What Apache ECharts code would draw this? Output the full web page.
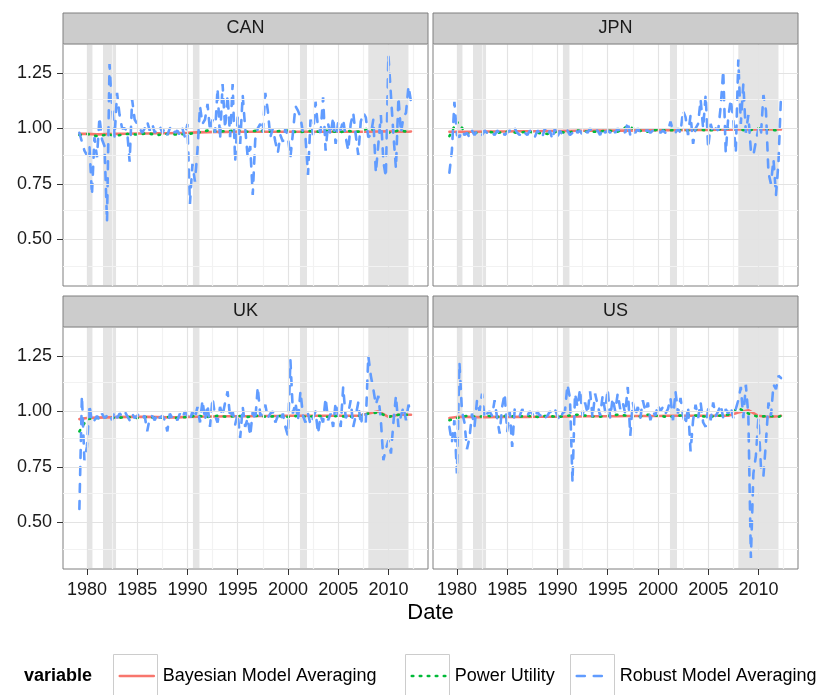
<!DOCTYPE html>
<html><head><meta charset="utf-8">
<script src="https://cdn.jsdelivr.net/npm/echarts@6/dist/echarts.min.js"></script>
<style>html,body{margin:0;padding:0;background:#fff}#c{width:822px;height:695px}</style>
</head><body><div id="c"></div>
<script>
// ---------- data ----------
const panels = ['CAN', 'JPN', 'UK', 'US'];
const seriesNames = ['Bayesian Model Averaging', 'Power Utility', 'Robust Model Averaging'];
const xTicks = [1980, 1985, 1990, 1995, 2000, 2005, 2010];
const xMinor = [1982.5, 1987.5, 1992.5, 1997.5, 2002.5, 2007.5, 2012.5];
const yTicks = [0.50, 0.75, 1.00, 1.25];
const yMinor = [0.375, 0.625, 0.875, 1.125, 1.375];
const recessions = [[1980.0, 1980.55], [1981.6, 1982.9], [1990.55, 1991.2], [2001.2, 2001.9], [2008.0, 2012.0]];

// quarterly dates 1979Q2 .. 2012Q2 (used by Robust Model Averaging)
const quarterDates = [];
for (let i = 0; i <= 132; i++) quarterDates.push(1979.25 + i * 0.25);
// annual dates (used by the smooth BMA / Power Utility lines)
const smoothDates = [1979.25];
for (let y = 1980; y <= 2012; y++) smoothDates.push(y);
smoothDates.push(2012.25);

const canRMA = [
  0.98, 0.94, 0.90,
  0.88, 0.92, 0.70, 0.96,  0.87, 1.05, 0.95, 0.92,  0.58, 1.29, 1.10, 0.96,  1.16, 1.06, 1.00, 1.00,
  0.99, 0.85, 1.13, 1.04,  1.02, 1.00, 0.98, 1.00,  1.03, 0.99, 1.02, 0.98,  1.00, 1.01, 0.98, 1.00,
  0.97, 1.00, 1.01, 0.98,  0.99, 0.97, 1.00, 0.96,  1.02, 0.66, 0.84, 0.76,  0.90, 1.10, 1.02, 1.04,
  1.11, 0.99, 1.04, 0.98,  1.18, 0.95, 1.20, 1.00,  1.15, 0.96, 1.20, 0.85,  1.05, 0.93, 1.15, 1.00,
  0.87, 0.92, 0.70, 0.95,  1.00, 1.02, 0.98, 1.16,  1.08, 0.96, 1.00, 0.94,  0.89, 0.97, 0.94, 1.00,
  0.96, 0.87, 0.98, 1.10,  1.08, 1.05, 0.98, 0.96,  0.79, 1.04, 0.97, 1.12,  1.00, 0.98, 1.14, 0.90,
  1.02, 0.97, 1.05, 0.93,  1.03, 0.99, 1.04, 0.96,  0.90, 1.02, 1.07, 0.97,  0.88, 1.03, 1.07, 1.05,
  0.96, 0.97, 1.04, 0.80,  0.93, 1.06, 0.85, 0.78,  1.33, 1.15, 0.97, 0.82,  1.14, 0.98, 1.05, 1.07,
  1.19, 1.12
];
const jpnRMA = [
  0.80, 0.90, 1.12,
  0.97, 0.96, 0.99, 0.97,  0.98, 0.96, 0.99, 0.97,  0.99, 0.98, 0.97, 0.99,  0.98, 0.99, 0.98, 0.97,
  0.99, 0.98, 0.99, 0.97,  0.98, 0.99, 0.98, 1.00,  0.98, 0.97, 0.99, 0.98,  0.97, 0.99, 0.98, 0.96,
  0.99, 0.98, 0.96, 1.00,  0.97, 0.99, 0.95, 1.00,  0.96, 0.99, 0.97, 0.98,  0.99, 0.97, 0.98, 1.00,
  0.98, 0.99, 0.97, 0.99,  0.98, 1.00, 0.98, 0.99,  0.99, 0.97, 1.00, 0.98,  0.99, 0.98, 1.00, 0.98,
  1.00, 0.98, 0.99, 0.98,  1.03, 0.97, 0.99, 0.98,  1.00, 0.98, 0.99, 0.99,  0.99, 0.98, 0.99, 0.98,
  0.99, 0.98, 0.99, 0.98,  0.99, 1.03, 0.99, 0.98,  1.00, 0.98, 1.08, 1.05,  0.97, 1.06, 0.93, 1.00,
  1.02, 1.13, 1.00, 1.15,  0.91, 1.02, 0.98, 1.00,  0.99, 1.10, 1.26, 0.89,  1.05, 1.13, 1.04, 0.89,
  1.31, 1.02, 1.20, 0.98,  1.06, 0.90, 0.88, 0.94,  1.00, 0.97, 1.15, 1.08,  0.80, 0.75, 0.86, 0.70,
  0.85, 1.15
];
const ukRMA = [
  0.56, 1.07, 0.78,
  0.84, 1.03, 0.95, 0.96,  0.98, 0.96, 0.99, 0.97,  0.98, 0.99, 0.96, 1.00,  0.97, 0.99, 0.98, 1.00,
  0.98, 0.96, 0.99, 0.97,  0.98, 0.99, 0.97, 0.98,  0.91, 0.97, 0.98, 0.96,  0.99, 0.97, 0.98, 0.96,
  0.91, 0.99, 0.97, 0.98,  0.96, 0.99, 0.97, 1.00,  0.98, 0.96, 1.00, 0.97,  1.02, 0.95, 1.05, 0.96,
  1.03, 0.93, 1.06, 0.98,  0.95, 1.02, 0.98, 1.04,  1.09, 0.97, 1.00, 0.94,  0.99, 0.88, 1.02, 0.93,
  0.97, 0.89, 1.00, 0.96,  1.11, 0.98, 0.99, 1.03,  0.97, 0.99, 1.00, 0.95,  0.98, 0.96, 0.99, 0.93,
  0.89, 1.23, 0.99, 1.04,  0.96, 1.09, 0.98, 0.95,  0.99, 0.94, 0.97, 1.00,  0.90, 0.98, 0.95, 1.06,
  0.96, 0.99, 0.93, 1.04,  0.98, 0.93, 1.11, 0.97,  0.99, 1.05, 0.93, 0.98,  1.04, 0.94, 0.99, 0.95,
  1.25, 1.16, 1.10, 1.03,  1.07, 0.96, 0.78, 0.83,  0.87, 0.81, 0.95, 1.07,  0.93, 0.98, 1.02, 0.96,
  1.03, 0.99
];
const usRMA = [
  0.93, 0.86, 0.96,
  0.72, 1.22, 1.00, 0.95,  0.83, 0.88, 0.99, 0.93,  1.05, 1.00, 1.08, 0.97,  0.99, 1.00, 0.98, 1.05,
  0.97, 0.90, 1.02, 1.08,  0.91, 1.00, 0.84, 1.01,  1.00, 0.98, 1.01, 0.99,  0.98, 1.00, 0.99, 0.97,
  1.00, 0.98, 0.99, 0.97,  0.98, 1.00, 0.99, 1.01,  0.98, 0.96, 0.99, 1.00,  1.12, 1.06, 0.68, 1.08,
  1.02, 1.10, 0.98, 1.04,  0.99, 1.09, 0.97, 1.08,  1.03, 0.98, 1.07, 1.00,  1.10, 0.97, 1.06, 1.00,
  1.08, 1.01, 1.04, 0.99,  1.11, 0.89, 1.04, 0.98,  1.02, 0.97, 1.05, 1.00,  1.04, 0.96, 1.00, 0.98,
  1.03, 1.00, 1.02, 0.99,  1.01, 1.06, 0.96, 1.09,  0.99, 1.06, 0.98, 0.94,  1.02, 0.82, 0.96, 1.03,
  0.97, 1.04, 0.95, 0.93,  1.01, 0.96, 1.04, 0.98,  1.00, 1.03, 0.97, 1.01,  0.99, 1.02, 0.97, 1.01,
  1.05, 1.11, 0.97, 1.12,  0.98, 0.34, 0.72, 0.80,  0.97, 0.75, 0.71, 0.86,  1.04, 0.98, 1.12, 1.10,
  1.16, 1.15
];

const canBMA = [0.975,0.975,0.973,0.974,0.975, 0.976,0.977,0.977,0.978,0.978, 0.979,0.980,0.982,0.983,0.984,
  0.984,0.985,0.985,0.985,0.985, 0.985,0.985,0.985,0.985,0.985, 0.985,0.985,0.985,0.985,0.985, 0.986,0.987,0.985,0.985,0.986];
const canPU = [0.970,0.975,0.965,0.972,0.968, 0.975,0.972,0.978,0.970,0.975, 0.972,0.975,0.980,0.990,0.985,
  0.988,0.990,0.985,0.990,0.985, 0.987,0.990,0.982,0.988,0.985, 0.990,0.982,0.988,0.985,1.000, 0.985,0.980,0.990,0.985,0.990];
const jpnBMA = [0.985,0.985,0.985,0.985,0.986, 0.986,0.986,0.987,0.987,0.987, 0.988,0.988,0.988,0.989,0.989,
  0.990,0.990,0.990,0.990,0.991, 0.991,0.992,0.992,0.992,0.993, 0.993,0.993,0.994,0.994,0.995, 0.995,0.995,0.995,0.995,0.995];
const jpnPU = [0.965,1.030,0.975,0.980,0.985, 0.980,0.985,0.980,0.985,0.980, 0.975,0.985,0.980,0.990,0.985,
  0.985,0.990,0.985,1.010,0.990, 0.985,0.995,0.990,0.995,0.990, 0.995,0.990,0.995,1.000,0.995, 0.990,1.000,0.995,0.990,0.995];
const ukBMA = [0.965,0.970,0.972,0.973,0.974, 0.975,0.975,0.975,0.974,0.973, 0.973,0.975,0.976,0.977,0.977,
  0.978,0.978,0.978,0.979,0.979, 0.979,0.980,0.980,0.980,0.980, 0.980,0.980,0.980,0.980,0.990, 1.000,0.975,0.985,0.985,0.985];
const ukPU = [0.910,0.965,0.970,0.975,0.970, 0.975,0.970,0.975,0.970,0.975, 0.970,0.975,0.980,0.975,0.980,
  0.975,0.980,0.975,0.980,0.975, 0.980,0.975,0.980,0.975,0.980, 0.975,0.980,0.975,0.980,0.990, 0.995,0.975,0.985,0.985,0.990];
const usBMA = [0.970,0.975,0.975,0.974,0.974, 0.975,0.975,0.975,0.975,0.976, 0.976,0.976,0.977,0.977,0.978,
  0.978,0.978,0.978,0.979,0.979, 0.979,0.979,0.980,0.980,0.980, 0.980,0.980,0.980,0.980,0.995, 1.005,0.980,0.975,0.978,0.980];
const usPU = [0.960,0.970,0.980,0.975,0.980, 0.975,0.980,0.975,0.980,0.975, 0.980,0.975,0.980,0.985,0.980,
  0.975,0.980,0.985,0.980,0.975, 0.985,0.980,0.975,0.980,0.985, 0.980,0.975,0.980,0.985,1.015, 0.990,0.975,0.980,0.975,0.980];

const bmaByPanel = [canBMA, jpnBMA, ukBMA, usBMA];
const puByPanel = [canPU, jpnPU, ukPU, usPU];
const rmaByPanel = [canRMA, jpnRMA, ukRMA, usRMA];

// ---------- styling / layout ----------
const FONT = "'Liberation Sans', Arial, Helvetica, sans-serif";
const colors = ['#F8766D', '#00BA38', '#619CFF'];
const gridRects = [
  { left: 63, top: 44, width: 365, height: 242 },
  { left: 433, top: 44, width: 365, height: 242 },
  { left: 63, top: 327, width: 365, height: 242 },
  { left: 433, top: 327, width: 365, height: 242 }
];
const X_MIN = 1977.62, X_MAX = 2013.94, Y_MIN = 0.29, Y_MAX = 1.38;
const STRIP_H = 31;

const grid = [], xAxis = [], yAxis = [], series = [], graphic = [];
const pair = (xs, ys) => xs.map((x, i) => [x, ys[i]]);
const lineStyles = [
  { color: colors[0], width: 2.6, cap: 'round' },
  { color: colors[1], width: 2.6, type: [1.5, 6.5], cap: 'round' },
  { color: colors[2], width: 2.6, type: [8, 9], cap: 'round' }
];

gridRects.forEach((g, i) => {
  grid.push({ left: g.left, top: g.top, width: g.width, height: g.height, show: true,
    backgroundColor: '#FFFFFF', borderColor: '#7F7F7F', borderWidth: 1, containLabel: false });
  const bottomRow = i >= 2, leftCol = i % 2 === 0;
  xAxis.push({ type: 'value', gridIndex: i, min: X_MIN, max: X_MAX,
    axisLine: { show: false }, splitLine: { show: false },
    axisTick: { show: bottomRow, customValues: xTicks, length: 6, lineStyle: { color: '#333333', width: 1 } },
    axisLabel: { show: bottomRow, customValues: xTicks, margin: 12, fontSize: 18, color: '#1A1A1A',
      fontFamily: FONT, formatter: v => String(Math.round(v)) } });
  yAxis.push({ type: 'value', gridIndex: i, min: Y_MIN, max: Y_MAX,
    axisLine: { show: false }, splitLine: { show: false },
    axisTick: { show: leftCol, customValues: yTicks, length: 6, lineStyle: { color: '#333333', width: 1 } },
    axisLabel: { show: leftCol, customValues: yTicks, margin: 11, fontSize: 18, color: '#1A1A1A',
      fontFamily: FONT, formatter: v => v.toFixed(2) } });

  // grid lines (minor + major) through the axes' scales
  series.push({ type: 'line', xAxisIndex: i, yAxisIndex: i, data: [], z: 1, silent: true,
    markLine: { silent: true, symbol: ['none', 'none'], label: { show: false }, animation: false,
      lineStyle: { color: '#F2F2F2', type: 'solid', width: 1.2 },
      data: yMinor.map(v => ({ yAxis: v })).concat(xMinor.map(v => ({ xAxis: v }))) } });
  series.push({ type: 'line', xAxisIndex: i, yAxisIndex: i, data: [], z: 1, silent: true,
    markLine: { silent: true, symbol: ['none', 'none'], label: { show: false }, animation: false,
      lineStyle: { color: '#E3E3E3', type: 'solid', width: 1.2 },
      data: yTicks.map(v => ({ yAxis: v })).concat(xTicks.map(v => ({ xAxis: v }))) } });

  // data lines
  const dataSets = [pair(smoothDates, bmaByPanel[i]), pair(smoothDates, puByPanel[i]), pair(quarterDates, rmaByPanel[i])];
  seriesNames.forEach((n, k) => series.push({ name: n, type: 'line', xAxisIndex: i, yAxisIndex: i, z: 3,
    showSymbol: false, symbol: 'none', animation: false, color: colors[k],
    lineStyle: lineStyles[k], data: dataSets[k] }));

  // recession shading on top
  series.push({ type: 'line', xAxisIndex: i, yAxisIndex: i, data: [], z: 5, silent: true,
    markArea: { silent: true, animation: false, itemStyle: { color: 'rgba(190,190,190,0.42)' },
      data: recessions.map(r => [{ xAxis: r[0] }, { xAxis: r[1] }]) } });

  // facet strip
  graphic.push({ type: 'rect', z: 10, shape: { x: g.left, y: g.top - STRIP_H, width: g.width, height: STRIP_H },
    style: { fill: '#CCCCCC', stroke: '#7F7F7F', lineWidth: 1 } });
  graphic.push({ type: 'text', z: 11, x: g.left + g.width / 2, y: g.top - STRIP_H / 2,
    style: { text: panels[i], font: '18px ' + FONT, fill: '#1A1A1A',
      align: 'center', verticalAlign: 'middle', textAlign: 'center', textVerticalAlign: 'middle' } });
});

// axis title
graphic.push({ type: 'text', z: 11, x: 430.5, y: 613,
  style: { text: 'Date', font: '22px ' + FONT, fill: '#000000',
    align: 'center', verticalAlign: 'middle', textAlign: 'center', textVerticalAlign: 'middle' } });
// legend title
graphic.push({ type: 'text', z: 11, x: 24, y: 676,
  style: { text: 'variable', font: 'bold 18px ' + FONT, fill: '#000000',
    align: 'left', verticalAlign: 'middle', textAlign: 'left', textVerticalAlign: 'middle' } });
// legend key boxes
const keyBoxX = [113.5, 405.5, 570.5];
keyBoxX.forEach(x => graphic.push({ type: 'rect', z: 1, shape: { x: x, y: 654.5, width: 44, height: 44 },
  style: { fill: '#FFFFFF', stroke: '#CCCCCC', lineWidth: 1 } }));

const legendLeft = [118.5, 410.5, 575.5];
const legend = seriesNames.map((n, k) => ({
  data: [n], left: legendLeft[k], top: 666, padding: 0, itemWidth: 34, itemHeight: 14,
  selectedMode: false, z: 20,
  itemStyle: { opacity: 0, borderWidth: 0 },
  lineStyle: lineStyles[k],
  textStyle: { fontSize: 18, fontFamily: FONT, color: '#000000', padding: [0, 0, 0, 4], lineHeight: 20 }
}));

const chart = echarts.init(document.getElementById('c'), null, { renderer: 'canvas' });
chart.setOption({
  animation: false,
  backgroundColor: '#FFFFFF',
  textStyle: { fontFamily: FONT },
  grid, xAxis, yAxis, series, legend, graphic
});
</script></body></html>
